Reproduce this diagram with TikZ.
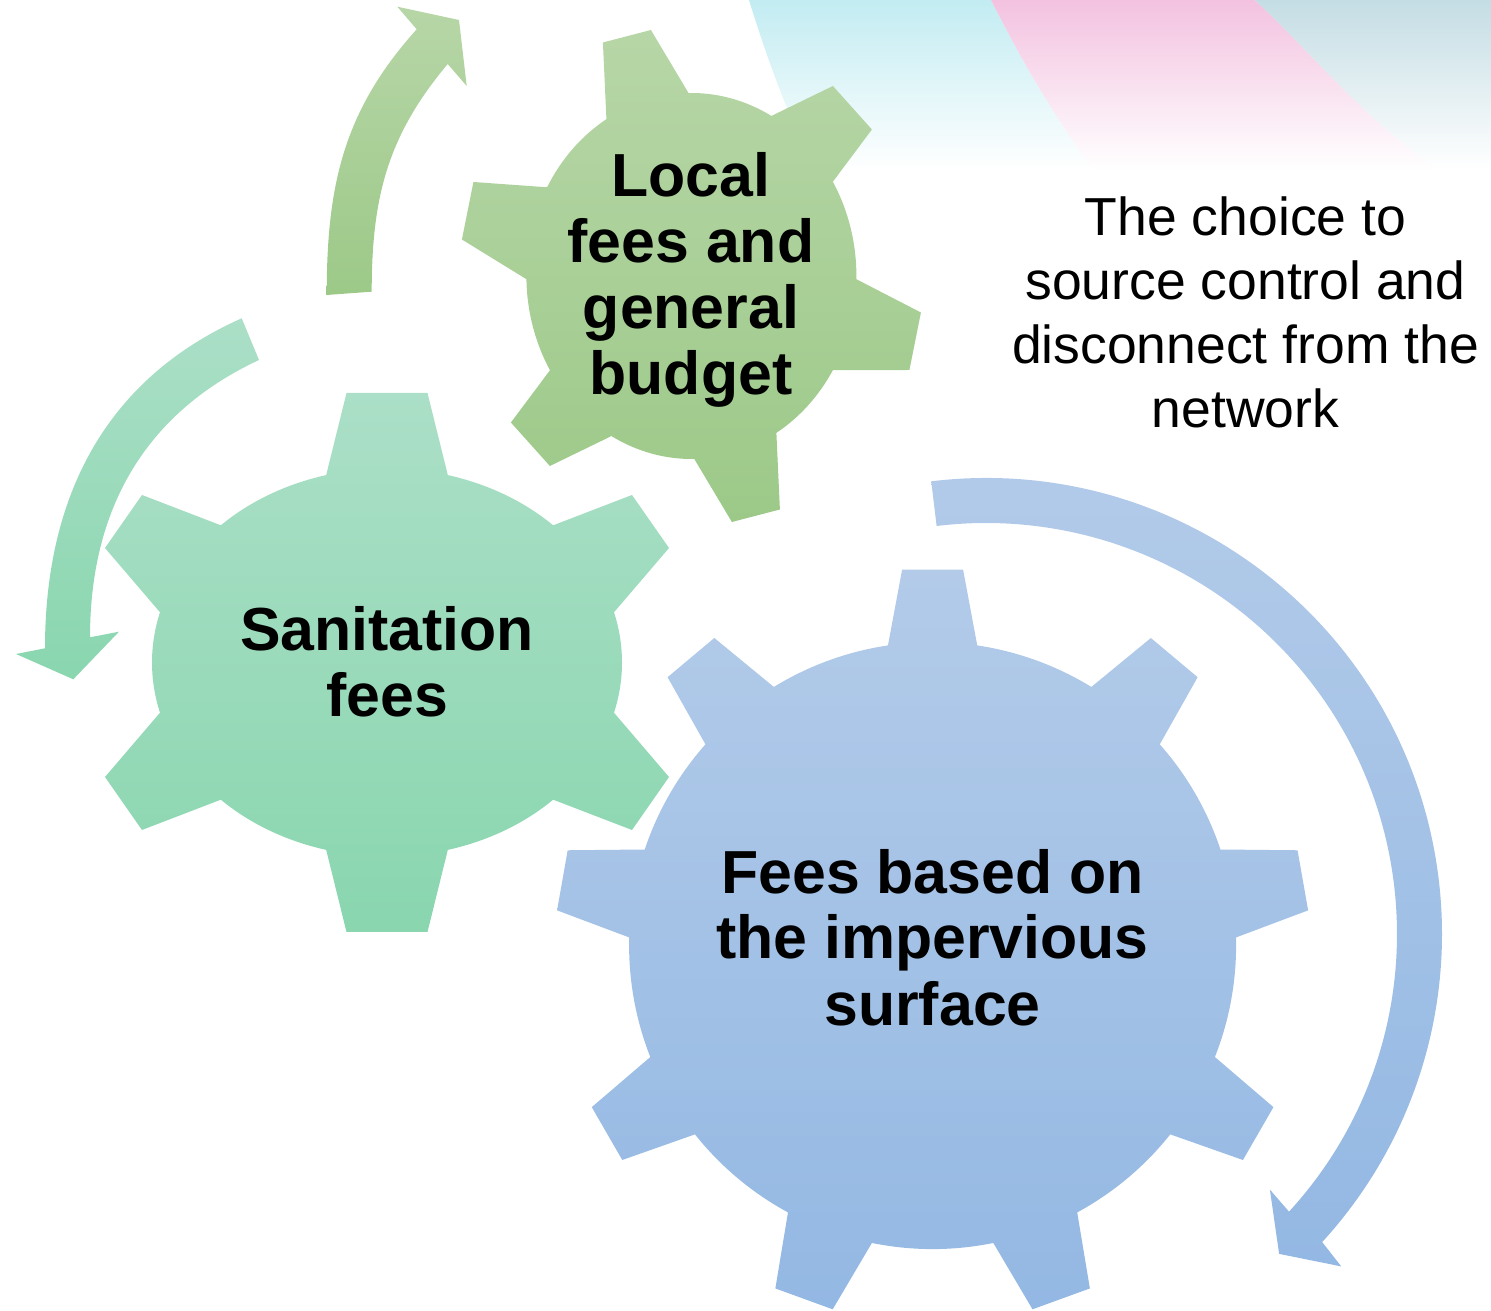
\documentclass[tikz,border=0pt]{standalone}
\usepackage{fontspec}
\setmainfont{Liberation Sans}
\definecolor{grTop}{HTML}{B7D6A7}
\definecolor{grBot}{HTML}{9CC988}
\definecolor{saTop}{HTML}{ABDFC7}
\definecolor{saBot}{HTML}{89D6AF}
\definecolor{blTop}{HTML}{B3CBE9}
\definecolor{blBot}{HTML}{93B8E3}
\definecolor{bandC}{HTML}{C2ECF2}
\definecolor{bandP}{HTML}{F3C2E0}
\definecolor{bandT}{HTML}{C4DDE4}
\begin{document}
\begin{tikzpicture}[x=1pt,y=1pt,
  gearlabel/.style={font=\bfseries\fontsize{60.8}{66}\selectfont, align=center, inner sep=0pt, anchor=base},
  plainlabel/.style={font=\fontsize{53.5}{64}\selectfont, align=center, inner sep=0pt, anchor=base},
  greenfill/.style={top color=grTop, bottom color=grBot},
  sanfill/.style={top color=saTop, bottom color=saBot},
  bluefill/.style={top color=blTop, bottom color=blBot}]
\useasboundingbox (0,0) rectangle (1491,1310);
\clip (0,0) rectangle (1491,1310);
% decorative bands (top right)
\shade[top color=bandC, bottom color=white] (749,1310) to[out=-73,in=112] (812,1140) -- (1093,1140) to[out=125,in=-63] (991,1310) -- cycle;
\shade[top color=bandP, bottom color=white] (991,1310) to[out=-63,in=125] (1093,1140) -- (1438,1140) to[out=144.5,in=-43.6] (1255,1310) -- cycle;
\shade[top color=bandT, bottom color=white] (1255,1310) to[out=-43.6,in=144.5] (1438,1140) -- (1491,1140) -- (1491,1310) -- cycle;
% blue gear (9 teeth)
\shade[bluefill, shift={(932.6,364.4)}]
  (81.54:303.5) \foreach \c in {90,130,...,410}{ -- (\c-4.64:377.2) -- (\c+4.64:377.2) -- (\c+8.46:303.5) arc[start angle=\c+8.46, end angle=\c+31.54, radius=303.5] } -- cycle;
% sanitation gear
\shade[sanfill, shift={(387,647.5)}]
  (-15:235 and 194) arc[start angle=-15,end angle=15,x radius=235,y radius=194]
  -- (282,114.5) -- (245,167.5) -- (45:235 and 194) arc[start angle=45,end angle=75,x radius=235,y radius=194]
  -- (40.5,269.5) -- (-40.5,269.5) -- (105:235 and 194) arc[start angle=105,end angle=135,x radius=235,y radius=194]
  -- (-245,167.5) -- (-282,114.5) -- (165:235 and 194) arc[start angle=165,end angle=195,x radius=235,y radius=194]
  -- (-282,-114.5) -- (-245,-167.5) -- (225:235 and 194) arc[start angle=225,end angle=255,x radius=235,y radius=194]
  -- (-40.5,-269.5) -- (40.5,-269.5) -- (285:235 and 194) arc[start angle=285,end angle=315,x radius=235,y radius=194]
  -- (245,-167.5) -- (282,-114.5) -- cycle;
% local fees gear
\shade[greenfill, shift={(691.4,1034)}]
  (-31:165 and 183) -- (218,-94) -- (229.5,-36.5) -- (-1:165 and 183) arc[start angle=-1,end angle=31,x radius=165,y radius=183]
  -- (180.5,146.5) -- (141.5,190) -- (61:165 and 183) arc[start angle=61,end angle=91,x radius=165,y radius=183]
  -- (-40.5,246) -- (-88.5,233.5) -- (121:165 and 183) arc[start angle=121,end angle=151,x radius=165,y radius=183]
  -- (-218,94) -- (-229.5,36.5) -- (181:165 and 183) arc[start angle=181,end angle=211,x radius=165,y radius=183]
  -- (-180.5,-146.5) -- (-141.5,-190) -- (241:165 and 183) arc[start angle=241,end angle=271,x radius=165,y radius=183]
  -- (40.5,-246) -- (88.5,-233.5) -- (301:165 and 183) arc[start angle=301,end angle=329,x radius=165,y radius=183] -- cycle;
% curved block arrows
\shade[greenfill] (326.7,1015) to[out=90,in=228] (416.7,1280.7) -- (397.3,1303.3) -- (459,1290) -- (466.7,1224) -- (447.7,1246) to[out=230,in=90] (371.7,1018.3) -- cycle;
\shade[sanfill] (241.7,991.7) to[out=204,in=90] (45,661.7) -- (16,656) -- (73.3,630.7) -- (119,678.3) -- (90,672.7) to[out=90,in=205] (259,950) -- cycle;
\shade[bluefill, shift={(986,376)}] (96.9:456) arc[start angle=96.9,end angle=-42.5,radius=456] -- (-43.1:486.5) -- (-47.5:433.9) -- (-42:382) -- (-42.5:411) arc[start angle=-42.5,end angle=96.9,radius=411] -- cycle;
% labels (base anchor = baseline of the last line)
\node[gearlabel] (local) at (691,915) {Local\\fees and\\general\\budget};
\node[gearlabel] (sanit) at (387,593) {Sanitation\\fees};
\node[gearlabel] (imperv) at (932.5,285) {Fees based on\\the impervious\\surface};
\node[plainlabel] (choice) at (1245.5,882) {The choice to\\source control and\\disconnect from the\\network};
\end{tikzpicture}
\end{document}
